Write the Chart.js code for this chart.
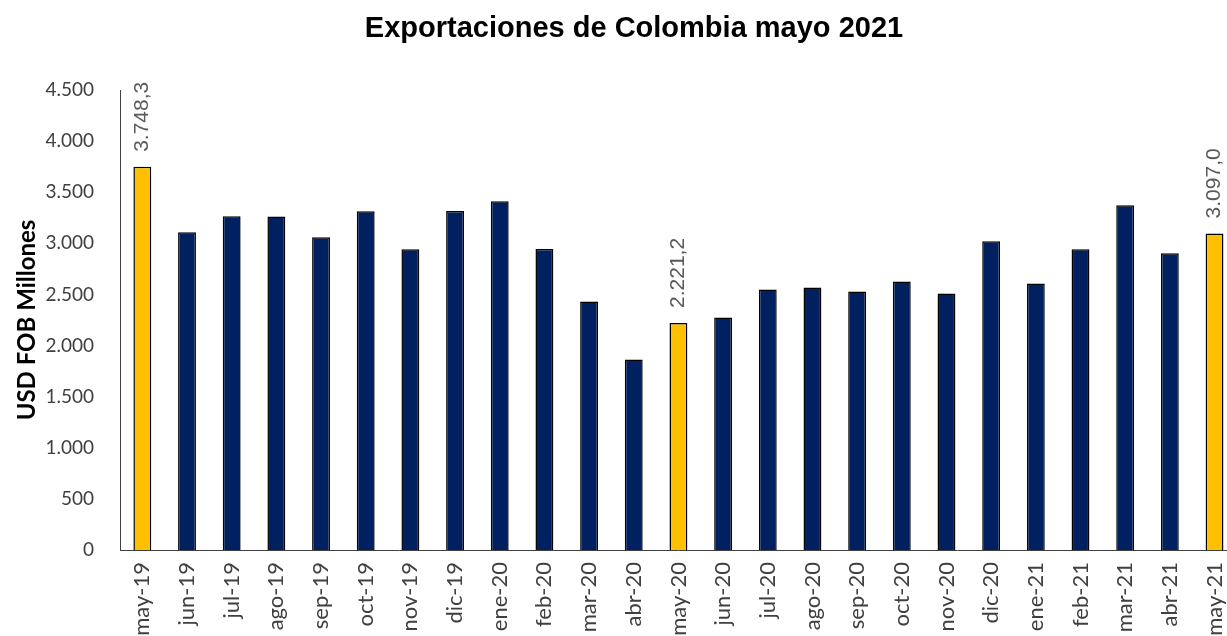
<!DOCTYPE html>
<html>
<head>
<meta charset="utf-8">
<script src="https://cdn.jsdelivr.net/npm/chart.js@4.4.1/dist/chart.umd.min.js"></script>
<style>
  html, body { margin: 0; padding: 0; background: #fff; overflow: hidden; }
  #wrap { position: absolute; left: 0; top: 0; width: 1253px; height: 660px; }
</style>
</head>
<body>
<div id="wrap"><canvas id="exportChart"></canvas></div>
<script>
// months shown on the x axis
const months = [
  "may-19", "jun-19", "jul-19", "ago-19", "sep-19", "oct-19", "nov-19", "dic-19",
  "ene-20", "feb-20", "mar-20", "abr-20", "may-20", "jun-20", "jul-20", "ago-20",
  "sep-20", "oct-20", "nov-20", "dic-20", "ene-21", "feb-21", "mar-21", "abr-21", "may-21"
];

// exports, USD FOB millions
const exportsUsd = [
  3748.3, 3108, 3265, 3262, 3059, 3314, 2941, 3316,
  3412, 2945, 2431, 1863, 2221.2, 2275, 2549, 2569,
  2529, 2627, 2510, 3020, 2608, 2941, 3373, 2902, 3097.0
];

// the "mayo" months get the yellow bar and a value label
const highlighted = ["may-19", "may-20", "may-21"];

const yTicks = [0, 500, 1000, 1500, 2000, 2500, 3000, 3500, 4000, 4500];

const NAVY = "#002060";
const GOLD = "#FFC000";
const fmt = (v, d) => v.toLocaleString("de-DE", { minimumFractionDigits: d, maximumFractionDigits: d });

// value labels above highlighted bars, rotated like in Excel
const barLabels = {
  id: "barLabels",
  afterDatasetsDraw(chart) {
    const ctx = chart.ctx;
    const meta = chart.getDatasetMeta(0);
    ctx.save();
    ctx.font = "21px 'Liberation Sans', Arial, sans-serif";
    ctx.fillStyle = "#595959";
    ctx.textAlign = "left";
    ctx.textBaseline = "middle";
    meta.data.forEach((bar, i) => {
      if (!highlighted.includes(months[i])) return;
      ctx.save();
      ctx.translate(bar.x, bar.y - 15);
      ctx.rotate(-Math.PI / 2);
      ctx.fillText(fmt(exportsUsd[i], 1), 0, 0);
      ctx.restore();
    });
    ctx.restore();
  }
};

// chart title, placed where the original sits
const bigTitle = {
  id: "bigTitle",
  afterDraw(chart) {
    const ctx = chart.ctx;
    ctx.save();
    ctx.font = "bold 29px 'Liberation Sans', Arial, sans-serif";
    ctx.fillStyle = "#000";
    ctx.textAlign = "center";
    ctx.textBaseline = "middle";
    ctx.fillText("Exportaciones de Colombia mayo 2021", 634, 29);
    ctx.restore();
  }
};

new Chart(document.getElementById("exportChart"), {
  type: "bar",
  data: {
    labels: months,
    datasets: [{
      data: exportsUsd,
      backgroundColor: months.map(m => highlighted.includes(m) ? GOLD : NAVY),
      borderColor: "#000",
      borderWidth: 1.5,
      barPercentage: 0.4,
      categoryPercentage: 1.0
    }]
  },
  options: {
    responsive: true,
    maintainAspectRatio: false,
    animation: false,
    layout: { padding: { top: 90, right: 4, left: 0, bottom: 0 } },
    plugins: {
      legend: { display: false },
      title: { display: false },
      tooltip: { enabled: false }
    },
    scales: {
      x: {
        grid: { display: false, drawTicks: false },
        border: { display: true, color: "#404040", width: 1 },
        ticks: {
          autoSkip: false,
          minRotation: 90,
          maxRotation: 90,
          padding: 12,
          color: "#404040",
          font: { family: "Lato", size: 22 }
        },
        afterFit(scale) { scale.height = 110; }
      },
      y: {
        min: 0,
        max: 4500,
        afterBuildTicks(scale) { scale.ticks = yTicks.map(v => ({ value: v })); },
        grid: { display: false, drawTicks: false },
        border: { display: true, color: "#404040", width: 1 },
        ticks: {
          padding: 26,
          color: "#404040",
          font: { family: "Lato", size: 19 },
          callback: v => fmt(v, 0)
        },
        title: {
          display: true,
          text: "USD FOB Millones",
          color: "#000",
          padding: { top: 13, bottom: 0 },
          font: { family: "Lato", size: 24, weight: "bold" }
        },
        afterFit(scale) { scale.width = 120; }
      }
    }
  },
  plugins: [barLabels, bigTitle]
});
</script>
</body>
</html>
